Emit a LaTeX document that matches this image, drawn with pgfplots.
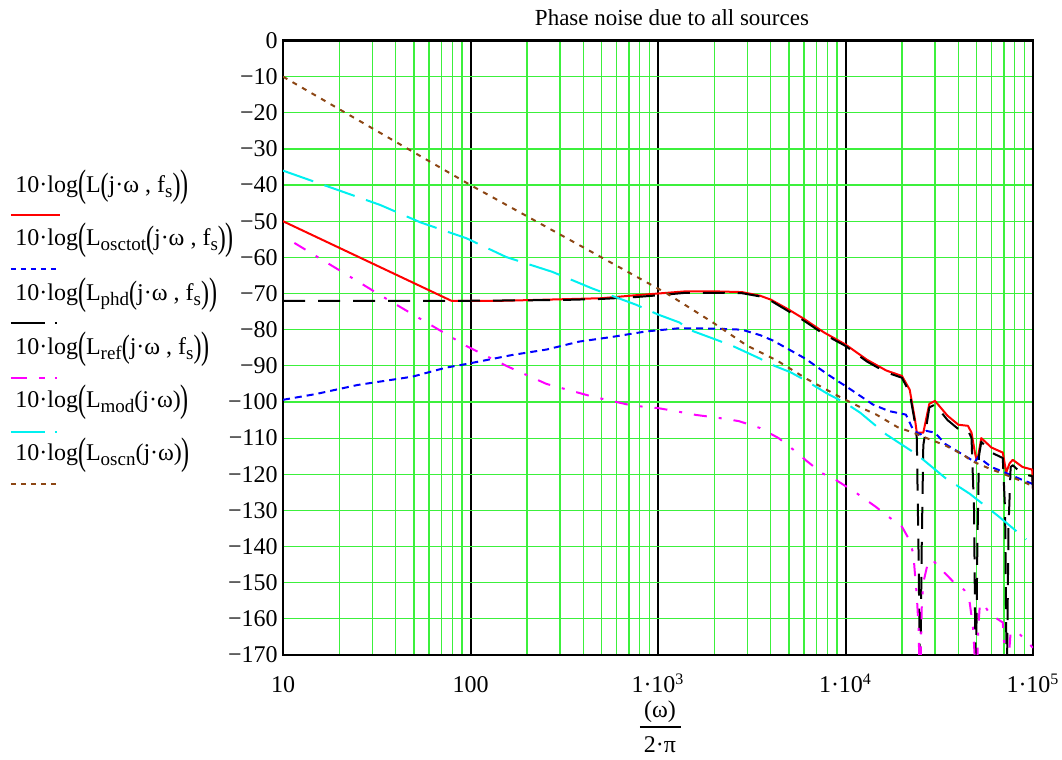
\documentclass[border=0pt]{standalone}
\usepackage{fontspec}
\setmainfont{Liberation Serif}
\usepackage{graphicx}
\usepackage{pgfplots}
\pgfplotsset{compat=1.18}
\definecolor{gridgreen}{RGB}{60,240,60}
\definecolor{mybrown}{RGB}{140,70,20}
\definecolor{mcyan}{RGB}{0,240,240}
\definecolor{mmagenta}{RGB}{255,0,255}
\definecolor{mred}{RGB}{255,0,0}
\definecolor{mblue}{RGB}{0,0,255}
\newcommand{\bp}[1]{\raisebox{-0.35ex}{\scalebox{1}[1.6]{#1}}}
\newcommand{\mpar}[1]{\raisebox{-0.25ex}{\scalebox{1}[1.35]{#1}}}
\newcommand{\sub}[1]{\raisebox{-0.45ex}{\fontsize{9.5}{10}\selectfont #1}}
\begin{document}
\fontsize{11.5}{14}\selectfont
\begin{tikzpicture}
\useasboundingbox (-141.5pt,-52.5pt) rectangle (389.5pt,327.5pt);
\begin{axis}[
  at={(0pt,0pt)}, anchor=south west,
  scale only axis, width=375pt, height=307.25pt,
  xmode=log, xmin=10, xmax=100000, ymin=-170, ymax=0,
  xtick={10,100,1000,10000,100000},
  xticklabels={10,100,1·10\textsuperscript{3},1·10\textsuperscript{4},1·10\textsuperscript{5}},
  ytick={-170,-160,...,0},
  yticklabels={−170,−160,−150,−140,−130,−120,−110,−100,−90,−80,−70,−60,−50,−40,−30,−20,−10,0},
  major tick length=0pt, minor tick length=0pt,
  grid=both,
  major x grid style={black, line width=1pt},
  minor x grid style={gridgreen, line width=0.6pt},
  major y grid style={gridgreen, line width=0.6pt},
  axis line style={black, line width=1.2pt},
  tick label style={font=\fontsize{12}{14}\selectfont},
  xticklabel style={anchor=base, inner sep=0pt, yshift=-19pt},
  yticklabel style={anchor=east, inner sep=0pt, xshift=-2.5pt},
  every axis plot/.append style={line width=1pt, line join=round},
]
% L (total)
\addplot[mred] coordinates {
(10,-50) (79,-72) (150,-72) (300,-71.6) (500,-71.3) (750,-70.5) (1000,-70) (1400,-69.4)
(2000,-69.4) (2800,-69.6) (3500,-70.6) (4000,-71.7) (5000,-74.5) (6000,-77) (7700,-80.8)
(10000,-84.1) (13000,-88.3) (16500,-91.3) (20000,-92.8) (22000,-96.6) (23500,-105)
(24000,-108.5) (26000,-108.5) (28000,-100.5) (30000,-99.7) (35000,-103.8) (40000,-106.3)
(45000,-106.6) (47000,-108.5) (49000,-114) (50000,-116) (51000,-115) (53000,-110)
(60000,-112.6) (69000,-114) (72000,-119.5) (75000,-117) (78000,-116) (88000,-118)
(99000,-118.7) (100000,-124)};
% L osctot
\addplot[mblue, dash pattern=on 3.5pt off 2.5pt] coordinates {
(10,-99.4) (15,-97.8) (25,-95.3) (49,-93) (74,-90.5) (95,-89.5) (167,-87) (254,-85.5)
(380,-83.3) (570,-82) (860,-80.5) (1300,-79.6) (2000,-79.7) (2800,-80) (3500,-81.5)
(4100,-83) (5000,-85.5) (6100,-88) (8100,-92.5) (10700,-96.6) (14000,-100.7) (17000,-102.5)
(21000,-103.5) (23000,-107.8) (25000,-109) (27000,-108) (30000,-108.5) (34000,-111.6)
(43000,-114.8) (49000,-116.6) (51000,-115.2) (60000,-118) (73000,-119.8) (88000,-121.6)
(100000,-122.7)};
% L phd
\addplot[black, dash pattern=on 11pt off 6.5pt] coordinates {
(10,-72) (100,-72) (300,-71.8) (500,-71.5) (750,-71) (1000,-70.5) (1400,-69.8) (2000,-69.8)
(2800,-69.9) (3500,-70.8) (4000,-72) (5000,-75) (6000,-77.5) (7700,-81.3) (10000,-84.5)
(13000,-88.8) (16500,-91.8) (20000,-93.3) (22000,-97.5) (23500,-106) (24000,-110)
(24500,-140) (25000,-180) (25500,-140) (26000,-112) (28000,-101.5) (30000,-100.7)
(35000,-105) (40000,-107.5) (45000,-107.8) (47000,-110) (48500,-130) (49500,-180)
(50500,-140) (51500,-115) (53000,-111) (60000,-114) (69000,-115.5) (71000,-130)
(72500,-180) (74000,-135) (76000,-118) (78000,-117.5) (88000,-120) (99000,-120.5)
(100000,-124)};
% L ref
\addplot[mmagenta, dash pattern=on 6.5pt off 6pt on 1.5pt off 6pt] coordinates {
(11.5,-56) (35.7,-71.5) (95,-84.5) (155,-90) (254,-95) (446,-98.5) (730,-101) (1000,-101.7)
(1230,-102.5) (1600,-103.6) (2100,-104.4) (2700,-105.3) (3500,-107.2) (4400,-110)
(5300,-113.3) (6200,-116.3) (7500,-119.7) (8900,-121.6) (11300,-125) (14500,-129)
(17000,-131.8) (20000,-134.5) (21500,-137.4) (23000,-141.8) (23500,-148) (24000,-153.5)
(24500,-162) (25000,-180) (25500,-157) (26000,-150) (27500,-144.5) (29000,-143.6)
(32000,-146) (38000,-150) (43000,-152) (46000,-155.6) (48000,-163) (50000,-180)
(51000,-163) (52000,-156.5) (54000,-155.6) (59000,-158.7) (69000,-161) (70000,-165.6)
(72000,-180) (76000,-163.7) (84000,-164) (92000,-166) (100000,-168)};
% L mod
\addplot[mcyan, dash pattern=on 16pt off 6pt] coordinates {
(10,-36) (33,-45.5) (54,-50.3) (95,-54.7) (155,-59.9) (273,-64) (446,-68.6) (764,-73.1)
(1000,-75.8) (1300,-78) (1500,-80.2) (2000,-82.6) (2500,-84.5) (3500,-88) (4000,-89.6)
(5100,-91.8) (6100,-94) (8000,-97.7) (10000,-100.3) (12000,-103) (16500,-109)
(24000,-114.5) (34000,-121) (46000,-125.4) (65000,-131.5) (92000,-138)};
% L oscn
\addplot[mybrown, dash pattern=on 2.5pt off 3pt] coordinates {
(10,-10) (100,-40) (1117,-70) (1960,-78) (2980,-84.4) (4300,-88.5) (6250,-93.7)
(9400,-98.7) (12600,-102) (14500,-103.4) (19000,-107) (23000,-108.5) (28000,-110.3)
(34000,-112) (43000,-114.8) (47000,-116.3) (59000,-118.5) (72000,-120.2) (88000,-122)
(100000,-123.3)};
\end{axis}
% title
\node at (194.5pt,318.5pt) {Phase noise due to all sources};
% x label (fraction)
\node at (188.5pt,-28.5pt) {\fontsize{12}{14}\selectfont(ω)};
\draw[line width=0.6pt] (178.5pt,-36pt) -- (199pt,-36pt);
\node at (188.5pt,-45pt) {\fontsize{12}{14}\selectfont 2·π};
% legend
\begin{scope}[every node/.style={anchor=west, inner sep=0pt, font=\fontsize{12}{14}\selectfont}]
\node at (-134pt,234pt) {10·log\bp{(}L\mpar{(}j·ω , f\sub{s}\mpar{)}\bp{)}};
\draw[mred, line width=1pt] (-136pt,220pt) -- (-111.5pt,220pt);
\node at (-134pt,207.5pt) {10·log\bp{(}L\sub{osctot}\mpar{(}j·ω , f\sub{s}\mpar{)}\bp{)}};
\draw[mblue, line width=1pt, dash pattern=on 2.5pt off 2.5pt] (-136pt,193pt) -- (-111.5pt,193pt);
\node at (-134pt,180pt) {10·log\bp{(}L\sub{phd}\mpar{(}j·ω , f\sub{s}\mpar{)}\bp{)}};
\draw[black, line width=1pt, dash pattern=on 17pt off 5pt on 0.8pt off 10pt] (-136pt,166pt) -- (-111.5pt,166pt);
\node at (-134pt,153pt) {10·log\bp{(}L\sub{ref}\mpar{(}j·ω , f\sub{s}\mpar{)}\bp{)}};
\draw[mmagenta, line width=1pt, dash pattern=on 8pt off 6pt on 3pt off 5pt on 0.8pt off 10pt] (-136pt,138.5pt) -- (-111.5pt,138.5pt);
\node at (-134pt,126.5pt) {10·log\bp{(}L\sub{mod}(j·ω)\bp{)}};
\draw[mcyan, line width=1pt, dash pattern=on 17pt off 5pt on 0.8pt off 10pt] (-136pt,111.5pt) -- (-111.5pt,111.5pt);
\node at (-134pt,100pt) {10·log\bp{(}L\sub{oscn}(j·ω)\bp{)}};
\draw[mybrown, line width=1pt, dash pattern=on 2.5pt off 2.5pt] (-136pt,85.5pt) -- (-111.5pt,85.5pt);
\end{scope}
\end{tikzpicture}
\end{document}
